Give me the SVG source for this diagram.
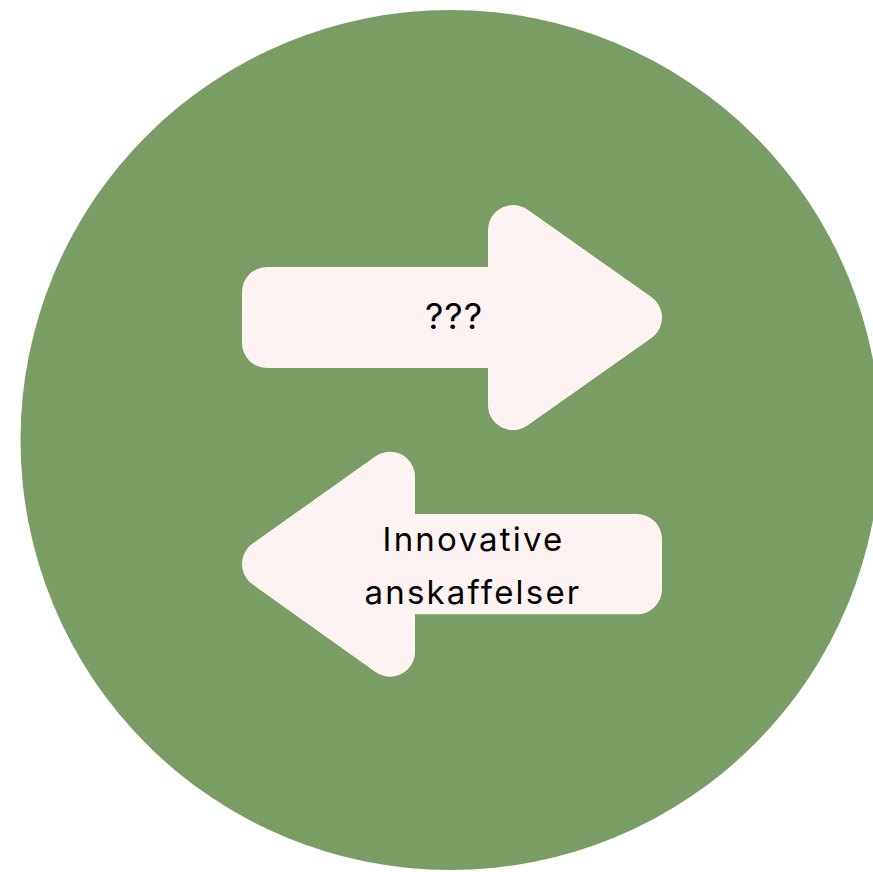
<svg xmlns="http://www.w3.org/2000/svg" width="873" height="872" viewBox="0 0 873 872">
<style>
.arrow{fill:#fef3f3;stroke:#fef3f3;stroke-width:50;stroke-linejoin:round}
.lbl{font-family:Inter,"Liberation Sans",sans-serif;font-size:33px;fill:#000;text-anchor:middle;letter-spacing:2.2px}
</style>
<rect width="873" height="872" fill="#ffffff"/>
<g id="circle"><circle cx="450.5" cy="440" r="430" fill="#7a9d64"/></g>
<g id="arrow-right">
<polygon class="arrow" points="267,292 513,292 513,230 637,317.5 513,405 513,343 267,343"/>
<text class="lbl" x="454" y="328.5" style="font-size:36px;letter-spacing:1px">???</text>
</g>
<g id="arrow-left">
<polygon class="arrow" points="637,539 390,539 390,476.7 267,564 390,651.7 390,589.3 637,589.3"/>
<text class="lbl" x="473.5" y="551">Innovative</text>
<text class="lbl" x="473" y="604">anskaffelser</text>
</g>
</svg>
